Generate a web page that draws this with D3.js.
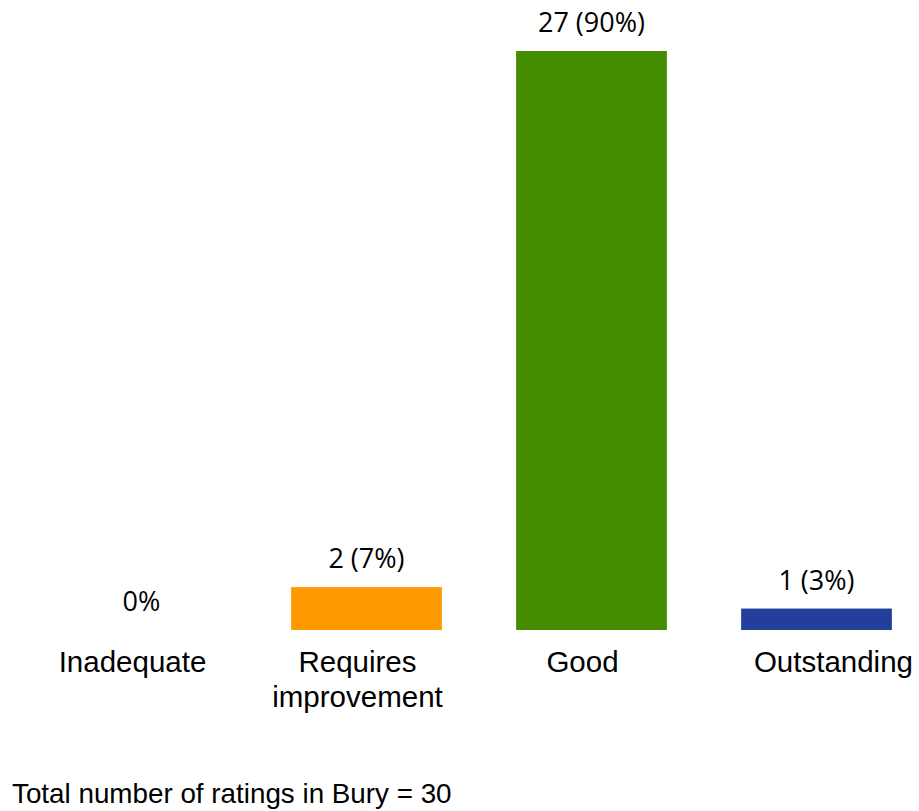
<!DOCTYPE html>
<html>
<head>
<meta charset="utf-8">
<script src="https://cdn.jsdelivr.net/npm/d3@7"></script>
<style>
    body { margin: 0; background: #fff; }
    .value { font-family: "Open Sans", sans-serif; font-size: 27px; fill: #000; }
    .cat { font-family: "Liberation Sans", Arial, sans-serif; font-size: 29.5px; fill: #000; }
    .total { font-family: "Liberation Sans", Arial, sans-serif; font-size: 27.8px; fill: #000; }
</style>
</head>
<body>
<div id="chart"></div>
<script>
var categories = ["Inadequate", "Requires improvement", "Good", "Outstanding"];
var counts = [0, 2, 27, 1];
var labels = ["0%", "2 (7%)", "27 (90%)", "1 (3%)"];
var colours = ["#c00000", "#fe9a00", "#448c00", "#22409a"];
var totalText = "Total number of ratings in Bury = 30";

function barChart() {

    //defining variables
    var w = 919;
    var h = 811;
    var base = 630;

    var xScale = d3
        .scaleBand()
        .domain(categories)
        .range([29, 929])
        .paddingInner(0.33)
        .paddingOuter(0.165);

    var yScale = d3
        .scaleLinear()
        .domain([0, d3.max(counts)])
        .range([base, 51]);

    var svg = d3.select("#chart").append("svg").attr("width", w).attr("height", h);

    var data = categories.map(function(c, i) {
        return { cat: c, n: counts[i], label: labels[i], colour: colours[i] };
    });

    svg
        .selectAll("rect.bar")
        .data(data)
        .enter()
        .append("rect")
        .attr("class", "bar")
        .attr("x", function(d) { return xScale(d.cat); })
        .attr("y", function(d) { return yScale(d.n); })
        .attr("width", xScale.bandwidth())
        .attr("height", function(d) { return base - yScale(d.n); })
        .attr("fill", function(d) { return d.colour; });

    svg
        .selectAll("text.value")
        .data(data)
        .enter()
        .append("text")
        .attr("class", "value")
        .attr("text-anchor", "middle")
        .attr("x", function(d) { return xScale(d.cat) + xScale.bandwidth() / 2; })
        .attr("y", function(d) { return yScale(d.n) - 19; })
        .text(function(d) { return d.label; });

    // category labels sit a little left of the bar centres, except the last one
    var cats = svg
        .selectAll("text.cat")
        .data(data)
        .enter()
        .append("text")
        .attr("class", "cat")
        .attr("text-anchor", function(d, i) { return i === data.length - 1 ? "end" : "middle"; })
        .attr("x", function(d, i) {
            if (i === data.length - 1) return w - 6;
            return xScale(d.cat) + xScale.bandwidth() / 2 - 9;
        })
        .attr("y", 672);

    cats.each(function(d) {
        var words = d.cat.split(" ");
        var t = d3.select(this);
        var x = t.attr("x");
        words.forEach(function(word, j) {
            t.append("tspan")
                .attr("x", x)
                .attr("dy", j === 0 ? 0 : 35)
                .text(word);
        });
    });

    svg
        .append("text")
        .attr("class", "total")
        .attr("x", 12)
        .attr("y", 803)
        .text(totalText);
}

window.onload = barChart;
</script>
</body>
</html>
